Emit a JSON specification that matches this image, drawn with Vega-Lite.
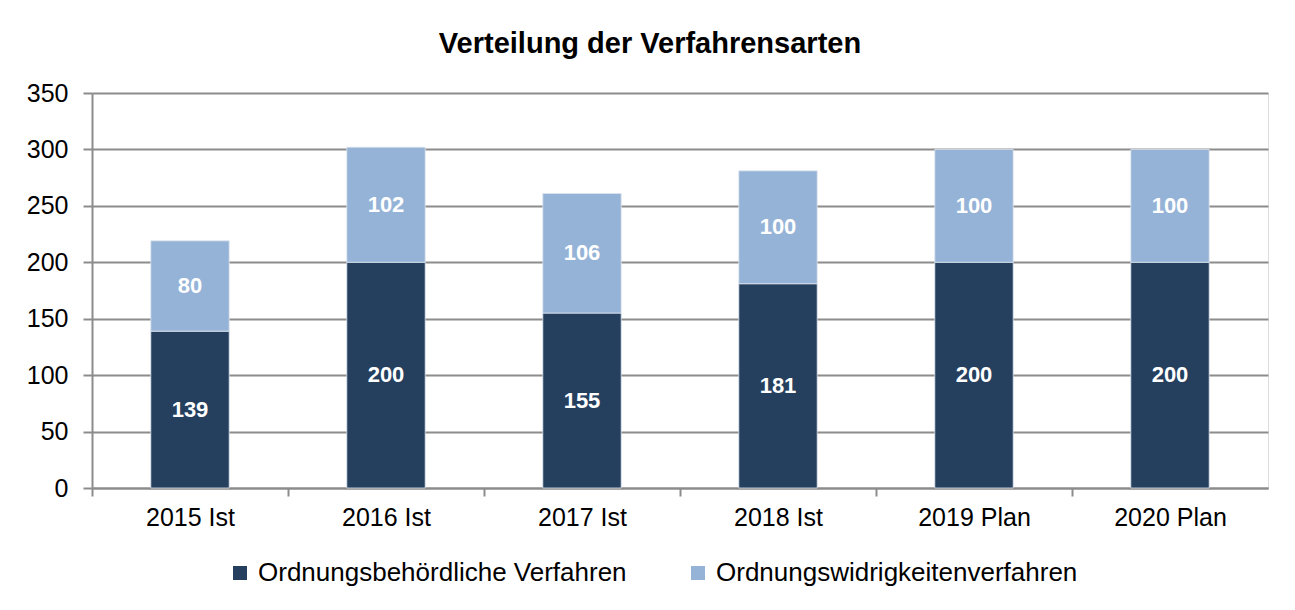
{
  "$schema": "https://vega.github.io/schema/vega-lite/v6.json",
  "autosize": {"type": "none"},
  "width": 1176,
  "height": 395,
  "padding": {"left": 92, "top": 93, "right": 27, "bottom": 122},
  "background": "white",
  "title": {
    "text": "Verteilung der Verfahrensarten",
    "font": "Liberation Sans",
    "fontSize": 29,
    "fontWeight": "bold",
    "color": "black",
    "anchor": "middle",
    "frame": "group",
    "dx": -30,
    "offset": 22
  },
  "data": {
    "values": [
      {"jahr": "2015 Ist", "art": "Ordnungsbehördliche Verfahren", "ord": 1, "wert": 139},
      {"jahr": "2015 Ist", "art": "Ordnungswidrigkeitenverfahren", "ord": 2, "wert": 80},
      {"jahr": "2016 Ist", "art": "Ordnungsbehördliche Verfahren", "ord": 1, "wert": 200},
      {"jahr": "2016 Ist", "art": "Ordnungswidrigkeitenverfahren", "ord": 2, "wert": 102},
      {"jahr": "2017 Ist", "art": "Ordnungsbehördliche Verfahren", "ord": 1, "wert": 155},
      {"jahr": "2017 Ist", "art": "Ordnungswidrigkeitenverfahren", "ord": 2, "wert": 106},
      {"jahr": "2018 Ist", "art": "Ordnungsbehördliche Verfahren", "ord": 1, "wert": 181},
      {"jahr": "2018 Ist", "art": "Ordnungswidrigkeitenverfahren", "ord": 2, "wert": 100},
      {"jahr": "2019 Plan", "art": "Ordnungsbehördliche Verfahren", "ord": 1, "wert": 200},
      {"jahr": "2019 Plan", "art": "Ordnungswidrigkeitenverfahren", "ord": 2, "wert": 100},
      {"jahr": "2020 Plan", "art": "Ordnungsbehördliche Verfahren", "ord": 1, "wert": 200},
      {"jahr": "2020 Plan", "art": "Ordnungswidrigkeitenverfahren", "ord": 2, "wert": 100}
    ]
  },
  "encoding": {
    "x": {
      "field": "jahr",
      "type": "nominal",
      "sort": null,
      "title": null,
      "scale": {"paddingInner": 0.6, "paddingOuter": 0.3},
      "axis": {
        "labelAngle": 0,
        "labelFont": "Liberation Sans",
        "labelFontSize": 25,
        "labelColor": "black",
        "labelPadding": 9,
        "tickOffset": -98,
        "labelOffset": 98,
        "tickSize": 8,
        "tickColor": "#8c8c8c",
        "tickWidth": 2,
        "domainColor": "#8c8c8c",
        "domainWidth": 2,
        "grid": false
      }
    }
  },
  "layer": [
    {
      "mark": {"type": "bar", "stroke": "#dfe6ef", "strokeWidth": 0.8},
      "encoding": {
        "y": {
          "field": "wert",
          "type": "quantitative",
          "stack": "zero",
          "title": null,
          "scale": {"domain": [0, 350], "nice": false},
          "axis": {
            "values": [0, 50, 100, 150, 200, 250, 300, 350],
            "labelFont": "Liberation Sans",
            "labelFontSize": 25,
            "labelColor": "black",
            "labelPadding": 15,
            "tickSize": 9,
            "tickColor": "#8c8c8c",
            "tickWidth": 2,
            "domainColor": "#8c8c8c",
            "domainWidth": 2,
            "grid": true,
            "gridColor": "#8c8c8c",
            "gridWidth": 2
          }
        },
        "color": {
          "field": "art",
          "type": "nominal",
          "scale": {
            "domain": ["Ordnungsbehördliche Verfahren", "Ordnungswidrigkeitenverfahren"],
            "range": ["#253f5f", "#95b3d7"]
          },
          "legend": {
            "title": null,
            "orient": "none",
            "direction": "horizontal",
            "columns": 2,
            "legendX": 135,
            "legendY": 467,
            "symbolType": "square",
            "symbolSize": 196,
            "symbolStrokeWidth": 0,
            "labelFont": "Liberation Sans",
            "labelFontSize": 26,
            "labelColor": "black",
            "labelOffset": 5,
            "labelLimit": 500,
            "columnPadding": 58,
            "padding": 0
          }
        },
        "order": {"field": "ord", "type": "quantitative"}
      }
    },
    {
      "mark": {
        "type": "text",
        "color": "white",
        "font": "Liberation Sans",
        "fontSize": 22,
        "fontWeight": "bold",
        "baseline": "middle",
        "align": "center"
      },
      "encoding": {
        "y": {
          "field": "wert",
          "type": "quantitative",
          "stack": "zero",
          "bandPosition": 0.5
        },
        "detail": {"field": "art", "type": "nominal"},
        "order": {"field": "ord", "type": "quantitative"},
        "text": {"field": "wert", "type": "quantitative"}
      }
    }
  ]
}
